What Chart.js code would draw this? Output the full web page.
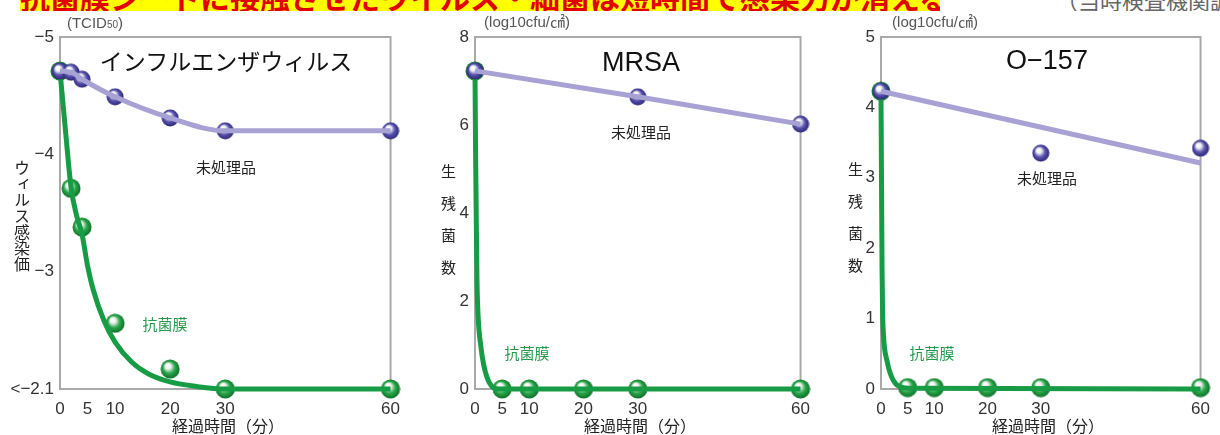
<!DOCTYPE html>
<html><head><meta charset="utf-8">
<script src="https://cdn.jsdelivr.net/npm/chart.js@4.4.1/dist/chart.umd.min.js"></script>
<style>
body{margin:0;width:1220px;height:435px;position:relative;overflow:hidden;background:#fff;font-family:"Noto Sans CJK JP","Noto Sans",sans-serif;}
canvas{position:absolute;top:0;}
.t{position:absolute;white-space:nowrap;transform:translate(-50%,-50%);line-height:1;}
.u{position:absolute;white-space:nowrap;transform:translate(-50%,-50%);line-height:1;font-family:'Liberation Sans',Arial,'Noto Sans CJK JP',sans-serif;font-size:15px;color:#555;}
.vt{position:absolute;writing-mode:vertical-rl;text-orientation:upright;white-space:nowrap;line-height:1;color:#222;}
</style></head>
<body>
<div style="position:absolute;left:20px;top:0;width:920px;height:11px;background:#ffff00;overflow:hidden;">
  <div style="position:absolute;left:0;top:-19px;width:920px;text-align:center;color:#e00000;font-weight:bold;font-size:30px;line-height:30px;white-space:nowrap;">抗菌膜シートに接触させたウイルス・細菌は短時間で感染力が消える</div>
</div>
<div style="position:absolute;left:1056px;top:0;width:170px;height:11px;overflow:hidden;">
  <div style="position:absolute;left:0;top:-12px;color:#666;font-size:22px;line-height:22px;white-space:nowrap;">（当時検査機関調べ）</div>
</div>

<canvas id="c1" width="410" height="435" style="left:0"></canvas>
<canvas id="c2" width="410" height="435" style="left:410px"></canvas>
<canvas id="c3" width="400" height="435" style="left:820px"></canvas>

<!-- panel 1 texts -->
<div class="u" style="left:95px;top:22px;">(TCID<span style="font-size:10px">50</span>)</div>
<div class="t" style="left:226px;top:60px;font-size:23px;color:#111;">インフルエンザウィルス</div>
<div class="t" style="left:226px;top:166px;font-size:15px;color:#222;">未処理品</div>
<div class="t" style="left:165px;top:323px;font-size:15px;color:#22994a;">抗菌膜</div>
<div class="vt" style="left:14px;top:160px;font-size:16px;">ウィルス感染価</div>
<div class="t" style="left:228px;top:425px;font-size:16px;color:#222;">経過時間（分）</div>

<!-- panel 2 texts -->
<div class="u" style="left:527px;top:21px;">(log10cfu/㎠)</div>
<div class="t" style="left:641px;top:62px;font-size:27px;color:#111;font-family:'Liberation Sans',Arial,sans-serif;">MRSA</div>
<div class="t" style="left:641px;top:131px;font-size:15px;color:#222;">未処理品</div>
<div class="t" style="left:527px;top:352px;font-size:15px;color:#22994a;">抗菌膜</div>
<div class="vt" style="left:441px;top:164px;font-size:15px;letter-spacing:17px;">生残菌数</div>
<div class="t" style="left:640px;top:425px;font-size:16px;color:#222;">経過時間（分）</div>

<!-- panel 3 texts -->
<div class="u" style="left:935px;top:21px;">(log10cfu/㎠)</div>
<div class="t" style="left:1047px;top:60px;font-size:27px;color:#111;font-family:'Liberation Sans',Arial,sans-serif;">O−157</div>
<div class="t" style="left:1047px;top:177px;font-size:15px;color:#222;">未処理品</div>
<div class="t" style="left:932px;top:352px;font-size:15px;color:#22994a;">抗菌膜</div>
<div class="vt" style="left:848px;top:162px;font-size:15px;letter-spacing:17px;">生残菌数</div>
<div class="t" style="left:1048px;top:425px;font-size:16px;color:#222;">経過時間（分）</div>

<script>
// ---- data ----
const xTicks = [0, 5, 10, 20, 30, 60];

// Influenza virus
const fluYTicks = [-5, -4, -3, -2];
const fluYLabels = ['−5', '−4', '−3', '<−2.1'];
const fluTime = [0, 2, 4, 10, 20, 30, 60];
const fluUntreated = [-4.71, -4.70, -4.64, -4.49, -4.31, -4.20, -4.20];
const fluFilm = [-4.71, -3.71, -3.38, -2.56, -2.17, -2.0, -2.0];
const fluFitTime = [0, 1, 2, 3, 4, 5, 6, 8, 10, 13, 16, 20, 25, 30, 60];
const fluFit = [-4.71, -4.2, -3.72, -3.48, -3.32, -3.05, -2.85, -2.58, -2.40, -2.23, -2.13, -2.06, -2.02, -2.0, -2.0];

// MRSA
const mrsaYTicks = [0, 2, 4, 6, 8];
const mrsaUntreatedTime = [0, 30, 60];
const mrsaUntreated = [7.23, 6.64, 6.02];
const mrsaFilmTime = [0, 5, 10, 20, 30, 60];
const mrsaFilm = [7.23, 0, 0, 0, 0, 0];
const mrsaFitTime = [0, 0.1, 0.2, 0.36, 0.6, 1.1, 1.6, 2.2, 3.2, 4.5, 60];
const mrsaFit = [7.23, 5.5, 4.3, 2.5, 1.6, 0.95, 0.55, 0.27, 0.05, 0, 0];

// O-157
const o157YTicks = [0, 1, 2, 3, 4, 5];
const o157UntreatedTime = [0, 30, 60];
const o157Untreated = [4.23, 3.35, 3.42];
const o157UntreatedLineTime = [0, 60];
const o157UntreatedLine = [4.23, 3.21];
const o157FilmTime = [0, 5, 10, 20, 30, 60];
const o157Film = [4.23, 0.02, 0.02, 0.02, 0.02, 0.02];
const o157FitTime = [0, 0.1, 0.2, 0.3, 0.45, 0.7, 1.1, 1.5, 2, 2.7, 3.4, 5, 60];
const o157Fit = [4.23, 2.9, 1.7, 1.1, 0.78, 0.56, 0.41, 0.28, 0.17, 0.08, 0.04, 0.01, 0];

// ---- styling helpers ----
const PURPLE_LINE = '#a7a1d4';
const GREEN_LINE = '#179c45';

function ball(base, dark, size) {
  const c = document.createElement('canvas');
  c.width = size; c.height = size;
  const g = c.getContext('2d');
  const r = size / 2;
  const grad = g.createRadialGradient(r * 0.7, r * 0.6, 0, r, r, r);
  grad.addColorStop(0, '#ffffff');
  grad.addColorStop(0.28, '#eef2f0');
  grad.addColorStop(0.6, base);
  grad.addColorStop(1, dark);
  g.fillStyle = grad;
  g.beginPath(); g.arc(r, r, r - 0.5, 0, Math.PI * 2); g.fill();
  return c;
}
const purpleBall = ball('#5a54b0', '#262070', 18);
const greenBall = ball('#2aa84a', '#0c6a26', 20);

const pts = (xs, ys) => xs.map((x, i) => ({x: x, y: ys[i]}));

const boxPlugin = {
  id: 'box',
  beforeDatasetsDraw(chart) {
    const {ctx, chartArea: a} = chart;
    ctx.save();
    ctx.strokeStyle = '#a9a9a9';
    ctx.lineWidth = 2;
    ctx.strokeRect(a.left, a.top, a.right - a.left, a.bottom - a.top);
    ctx.restore();
  }
};

function lineDs(data, color, width, mode) {
  return {data: data, showLine: true, borderColor: color, borderWidth: width,
    pointRadius: 0, pointHoverRadius: 0, fill: false, clip: false,
    cubicInterpolationMode: mode || 'default', tension: mode === 'monotone' ? 0.4 : 0};
}
function markerDs(data, img) {
  return {data: data, showLine: false, pointStyle: img, pointRadius: 9, clip: false,
    borderColor: 'rgba(0,0,0,0)', backgroundColor: 'rgba(0,0,0,0)'};
}

function makePanel(id, opt) {
  const tickFont = {family: "'Liberation Sans Narrow','Liberation Sans',Arial,sans-serif", size: 17};
  new Chart(document.getElementById(id), {
    type: 'scatter',
    data: {datasets: opt.datasets},
    options: {
      responsive: false, animation: false, devicePixelRatio: 1,
      plugins: {legend: {display: false}, tooltip: {enabled: false}},
      layout: {autoPadding: false, padding: {left: 0, top: 37, right: opt.padRight, bottom: 0}},
      scales: {
        x: {
          type: 'linear', min: 0, max: 60,
          grid: {display: false, drawTicks: false}, border: {display: false},
          afterBuildTicks: s => { s.ticks = xTicks.map(v => ({value: v})); },
          afterFit: s => { s.height = 46; },
          ticks: {padding: 10, color: '#333', font: tickFont, autoSkip: false, maxRotation: 0,
            callback: v => String(v)}
        },
        y: {
          type: 'linear', min: opt.yMin, max: opt.yMax, reverse: !!opt.reverse,
          grid: {display: false, drawTicks: false}, border: {display: false},
          afterBuildTicks: s => { s.ticks = opt.yTicks.map(v => ({value: v})); },
          afterFit: s => { s.width = opt.yWidth; },
          ticks: {padding: 6, color: '#333', font: tickFont, autoSkip: false,
            callback: v => opt.yLabels ? opt.yLabels[opt.yTicks.indexOf(v)] : String(v)}
        }
      }
    },
    plugins: [boxPlugin]
  });
}

makePanel('c1', {
  yMin: -5, yMax: -2, reverse: true, yTicks: fluYTicks, yLabels: fluYLabels,
  yWidth: 60, padRight: 17,
  datasets: [
    lineDs(pts(fluTime, fluUntreated), PURPLE_LINE, 5, 'monotone'),
    markerDs(pts(fluTime, fluUntreated), purpleBall),
    lineDs(pts(fluFitTime, fluFit), GREEN_LINE, 5, 'monotone'),
    markerDs(pts(fluTime, fluFilm), greenBall)
  ]
});

makePanel('c2', {
  yMin: 0, yMax: 8, yTicks: mrsaYTicks, yWidth: 65, padRight: 12,
  datasets: [
    lineDs(pts(mrsaUntreatedTime, mrsaUntreated), PURPLE_LINE, 5),
    markerDs(pts(mrsaUntreatedTime, mrsaUntreated), purpleBall),
    lineDs(pts(mrsaFitTime, mrsaFit), GREEN_LINE, 5, 'monotone'),
    markerDs(pts(mrsaFilmTime, mrsaFilm), greenBall)
  ]
});

makePanel('c3', {
  yMin: 0, yMax: 5, yTicks: o157YTicks, yWidth: 61, padRight: 6,
  datasets: [
    lineDs(pts(o157UntreatedLineTime, o157UntreatedLine), PURPLE_LINE, 5),
    markerDs(pts(o157UntreatedTime, o157Untreated), purpleBall),
    lineDs(pts(o157FitTime, o157Fit), GREEN_LINE, 5, 'monotone'),
    markerDs(pts(o157FilmTime, o157Film), greenBall)
  ]
});
</script>
</body></html>
